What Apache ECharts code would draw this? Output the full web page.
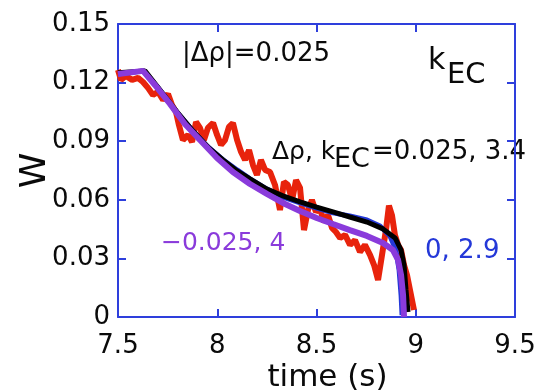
<!DOCTYPE html>
<html>
<head>
<meta charset="utf-8">
<script src="https://cdn.jsdelivr.net/npm/echarts@6/dist/echarts.min.js"></script>
<style>
html,body{margin:0;padding:0;background:#fff;}
#c{width:556px;height:391px;}
</style>
</head>
<body>
<div id="c"></div>
<script>
// ---- data (time in s, W) ----
const xTickLabels = ['7.5', '8', '8.5', '9', '9.5'];
const yTickLabels = ['0', '0.03', '0.06', '0.09', '0.12', '0.15'];

const redData = [
  [7.500,0.1265],[7.515,0.1214],[7.540,0.1234],[7.571,0.1214],[7.601,0.1224],[7.626,0.1203],
  [7.651,0.1173],[7.676,0.1137],[7.702,0.1152],[7.727,0.1111],[7.752,0.1142],[7.772,0.1085],
  [7.792,0.1050],[7.807,0.0983],[7.827,0.0906],[7.853,0.0932],[7.873,0.0896],[7.893,0.0998],
  [7.913,0.0968],[7.933,0.0906],[7.953,0.0968],[7.979,0.0993],[7.999,0.0932],[8.019,0.0881],
  [8.039,0.0906],[8.059,0.0973],[8.079,0.0993],[8.100,0.0906],[8.120,0.0845],[8.140,0.0804],
  [8.160,0.0855],[8.180,0.0778],[8.200,0.0727],[8.220,0.0804],[8.241,0.0753],[8.266,0.0742],
  [8.291,0.0676],[8.316,0.0548],[8.336,0.0691],[8.356,0.0676],[8.377,0.0599],[8.397,0.0701],
  [8.417,0.0661],[8.437,0.0445],[8.457,0.0548],[8.477,0.0599],[8.497,0.0538],[8.517,0.0558],
  [8.538,0.0486],[8.558,0.0522],[8.578,0.0456],[8.598,0.0435],[8.619,0.0405],[8.644,0.0420],
  [8.669,0.0369],[8.694,0.0394],[8.719,0.0333],[8.744,0.0369],[8.770,0.0317],[8.790,0.0266],
  [8.810,0.0189],[8.830,0.0317],[8.850,0.0445],[8.865,0.0570],[8.880,0.0522],[8.895,0.0420],
  [8.911,0.0369],[8.926,0.0343],[8.941,0.0266],[8.956,0.0215],[8.971,0.0138],[8.981,0.0087],
  [8.991,0.0036]
];

const blueData = [
  [7.500,0.1244],[7.631,0.1260],[7.702,0.1173],[7.787,0.1060],[7.873,0.0958],[7.948,0.0876],
  [8.024,0.0809],[8.100,0.0753],[8.165,0.0707],[8.250,0.0655],[8.331,0.0614],[8.417,0.0584],
  [8.501,0.0558],[8.583,0.0533],[8.668,0.0517],[8.754,0.0497],[8.820,0.0466],[8.870,0.0415],
  [8.900,0.0343],[8.916,0.0241],[8.926,0.0113],[8.931,0.0010]
];

const blackData = [
  [7.500,0.1250],[7.636,0.1260],[7.712,0.1162],[7.797,0.1050],[7.878,0.0952],[7.953,0.0870],
  [8.029,0.0804],[8.100,0.0748],[8.165,0.0707],[8.250,0.0655],[8.331,0.0620],[8.417,0.0589],
  [8.501,0.0563],[8.583,0.0538],[8.668,0.0512],[8.754,0.0486],[8.835,0.0451],[8.896,0.0405],
  [8.926,0.0343],[8.941,0.0266],[8.951,0.0138],[8.961,0.0026]
];

const purpleData = [
  [7.500,0.1244],[7.626,0.1260],[7.686,0.1188],[7.762,0.1091],[7.837,0.0988],[7.913,0.0906],
  [7.999,0.0814],[8.079,0.0742],[8.165,0.0681],[8.250,0.0630],[8.331,0.0584],[8.417,0.0543],
  [8.501,0.0507],[8.583,0.0476],[8.668,0.0445],[8.754,0.0415],[8.835,0.0379],[8.885,0.0343],
  [8.911,0.0292],[8.926,0.0215],[8.936,0.0113],[8.941,0.0000]
];

// ---- style ----
const FONT = 'DejaVu Sans';
const AX = '#2e3fdc';
const RED = '#e8230c';
const BLUE = '#2438d8';
const PURPLE = '#8a3bdb';
const TXT = '#0a0a0a';

const chart = echarts.init(document.getElementById('c'), null, {renderer: 'canvas'});

function line(data, color, width) {
  return {type: 'line', data: data, showSymbol: false, symbol: 'none',
          lineStyle: {color: color, width: width}, itemStyle: {color: color},
          xAxisIndex: 0, yAxisIndex: 0, animation: false};
}

const hiddenLbl = {show: false};
chart.setOption({
  animation: false,
  backgroundColor: '#fff',
  grid: {left: 118, right: 41, top: 24, bottom: 74, containLabel: false, outerBoundsMode: 'none'},
  xAxis: [{
    type: 'value', min: 7.5, max: 9.5, interval: 0.5, position: 'bottom',
    axisLine: {show: true, onZero: false, lineStyle: {color: AX, width: 2}},
    axisTick: {show: true, inside: true, length: 8, lineStyle: {color: AX, width: 2}},
    splitLine: {show: false},
    axisLabel: {color: TXT, fontFamily: FONT, fontSize: 26, margin: 16,
      formatter: v => xTickLabels[Math.round((v - 7.5) / 0.5)]},
    name: 'time (s)', nameLocation: 'middle', nameGap: 45, nameMoveOverlap: false,
    nameTextStyle: {color: TXT, fontFamily: FONT, fontSize: 31, padding: [0, 0, 0, 22]}
  }, {
    type: 'value', min: 7.5, max: 9.5, interval: 0.5, position: 'top',
    axisLine: {show: true, onZero: false, lineStyle: {color: AX, width: 2}},
    axisTick: {show: true, inside: true, length: 8, lineStyle: {color: AX, width: 2}},
    splitLine: {show: false}, axisLabel: hiddenLbl
  }],
  yAxis: [{
    type: 'value', min: 0, max: 0.15, interval: 0.03, position: 'left',
    axisLine: {show: true, onZero: false, lineStyle: {color: AX, width: 2}},
    axisTick: {show: true, inside: true, length: 8, lineStyle: {color: AX, width: 2}},
    splitLine: {show: false},
    axisLabel: {color: TXT, fontFamily: FONT, fontSize: 26, margin: 8,
      formatter: v => yTickLabels[Math.round(v / 0.03)]},
    name: 'W', nameLocation: 'middle', nameGap: 64, nameRotate: 90, nameMoveOverlap: false,
    nameTextStyle: {color: TXT, fontFamily: FONT, fontSize: 36}
  }, {
    type: 'value', min: 0, max: 0.15, interval: 0.03, position: 'right',
    axisLine: {show: true, onZero: false, lineStyle: {color: AX, width: 2}},
    axisTick: {show: true, inside: true, length: 8, lineStyle: {color: AX, width: 2}},
    splitLine: {show: false}, axisLabel: hiddenLbl
  }],
  series: [
    line(redData, RED, 6),
    line(blueData, BLUE, 5),
    line(blackData, '#000', 5),
    line(purpleData, PURPLE, 6)
  ],
  graphic: [
    {type: 'text', x: 182, y: 54, style: {text: '|Δρ|=0.025', fontFamily: FONT, fontSize: 26, fill: TXT, align: 'left', verticalAlign: 'middle'}},
    {type: 'text', x: 428, y: 61, style: {text: 'k', fontFamily: FONT, fontSize: 30, fill: TXT, align: 'left', verticalAlign: 'middle'}},
    {type: 'text', x: 447, y: 75, style: {text: 'EC', fontFamily: FONT, fontSize: 29, fill: TXT, align: 'left', verticalAlign: 'middle'}},
    {type: 'text', x: 272, y: 152, style: {text: 'Δρ, k', fontFamily: FONT, fontSize: 25, fill: TXT, align: 'left', verticalAlign: 'middle'}},
    {type: 'text', x: 334, y: 160, style: {text: 'EC', fontFamily: FONT, fontSize: 27, fill: TXT, align: 'left', verticalAlign: 'middle'}},
    {type: 'text', x: 372, y: 152, style: {text: '=0.025, 3.4', fontFamily: FONT, fontSize: 26, fill: TXT, align: 'left', verticalAlign: 'middle'}},
    {type: 'text', x: 161, y: 243, style: {text: '−0.025, 4', fontFamily: FONT, fontSize: 25, fill: PURPLE, align: 'left', verticalAlign: 'middle'}},
    {type: 'text', x: 425, y: 251, style: {text: '0, 2.9', fontFamily: FONT, fontSize: 26, fill: BLUE, align: 'left', verticalAlign: 'middle'}}
  ]
});
</script>
</body>
</html>
